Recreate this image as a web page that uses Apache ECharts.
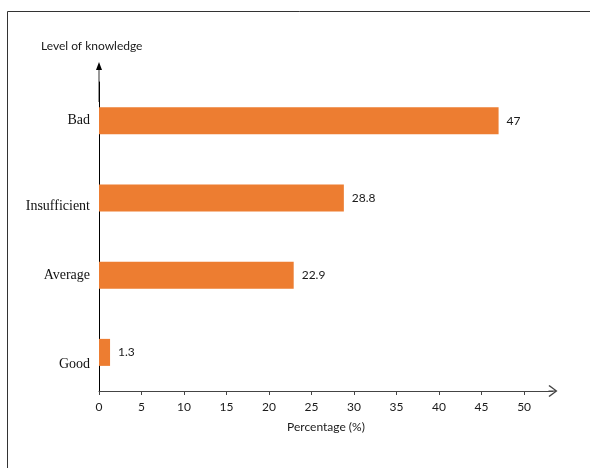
<!DOCTYPE html>
<html>
<head>
<meta charset="utf-8">
<script src="https://cdn.jsdelivr.net/npm/echarts@6/dist/echarts.min.js"></script>
<style>html,body{margin:0;padding:0;background:#fff}#c{width:590px;height:468px}</style>
</head>
<body>
<div id="c"></div>
<script>
const categories = ['Good', 'Average', 'Insufficient', 'Bad'];
const values = [1.3, 22.9, 28.8, 47];
const xTicks = [0, 5, 10, 15, 20, 25, 30, 35, 40, 45, 50];
const yTitle = 'Level of knowledge';
const xTitle = 'Percentage (%)';

const chart = echarts.init(document.getElementById('c'), null, {renderer: 'canvas'});
const sans = 'Lato';
const serif = 'Liberation Serif';
chart.setOption({
  animation: false,
  title: {
    text: yTitle, left: 36, top: 35,
    textStyle: {fontFamily: sans, fontSize: 12, fontWeight: 'normal', color: '#1a1a1a'}
  },
  graphic: [{
    type: 'rect', silent: true,
    shape: {x: 7.5, y: 11.5, width: 700, height: 600},
    style: {fill: 'none', stroke: '#333', lineWidth: 1}
  }],
  grid: {left: 99, right: 37, top: 82, bottom: 77, containLabel: false},
  xAxis: {
    type: 'value', min: 0, max: 53.4,
    name: xTitle, nameLocation: 'middle', nameGap: 30,
    nameTextStyle: {fontFamily: sans, fontSize: 12, color: '#1a1a1a'},
    splitLine: {show: false},
    axisLine: {
      show: true, lineStyle: {color: '#444', width: 1},
      symbol: ['none', 'path://M0,8 L6,0 L12,8 L11,9 L6,2 L1,9 Z M5.5,1 L6.5,1 L6.5,9 L5.5,9 Z'],
      symbolSize: [12, 9]
    },
    axisTick: {show: true, length: 4, lineStyle: {color: '#444'}, customValues: xTicks},
    axisLabel: {customValues: xTicks, fontFamily: sans, fontSize: 12, color: '#1a1a1a', margin: 10}
  },
  yAxis: {
    type: 'category', data: categories,
    axisLine: {
      show: true, lineStyle: {color: '#000', width: 1},
      symbol: ['none', 'path://M3,0 L6,8 L3.4,8 L3.4,40 L2.6,40 L2.6,8 L0,8 Z'],
      symbolSize: [6, 40]
    },
    axisTick: {show: false},
    axisLabel: {
      fontFamily: serif, fontSize: 14, color: '#111', margin: 9,
      formatter: v => v === 'Good' ? '{g|' + v + '}' : (v === 'Insufficient' ? '{i|' + v + '}' : v),
      rich: {
        g: {fontFamily: serif, fontSize: 14, color: '#111', padding: [24, 0, 0, 0]},
        i: {fontFamily: serif, fontSize: 14, color: '#111', padding: [16, 0, 0, 0]}
      }
    }
  },
  series: [{
    type: 'bar', data: values, barWidth: 27,
    itemStyle: {color: '#ED7D31'},
    label: {show: true, position: 'right', distance: 8, fontFamily: sans, fontSize: 12, color: '#1a1a1a'}
  }]
});
</script>
</body>
</html>
